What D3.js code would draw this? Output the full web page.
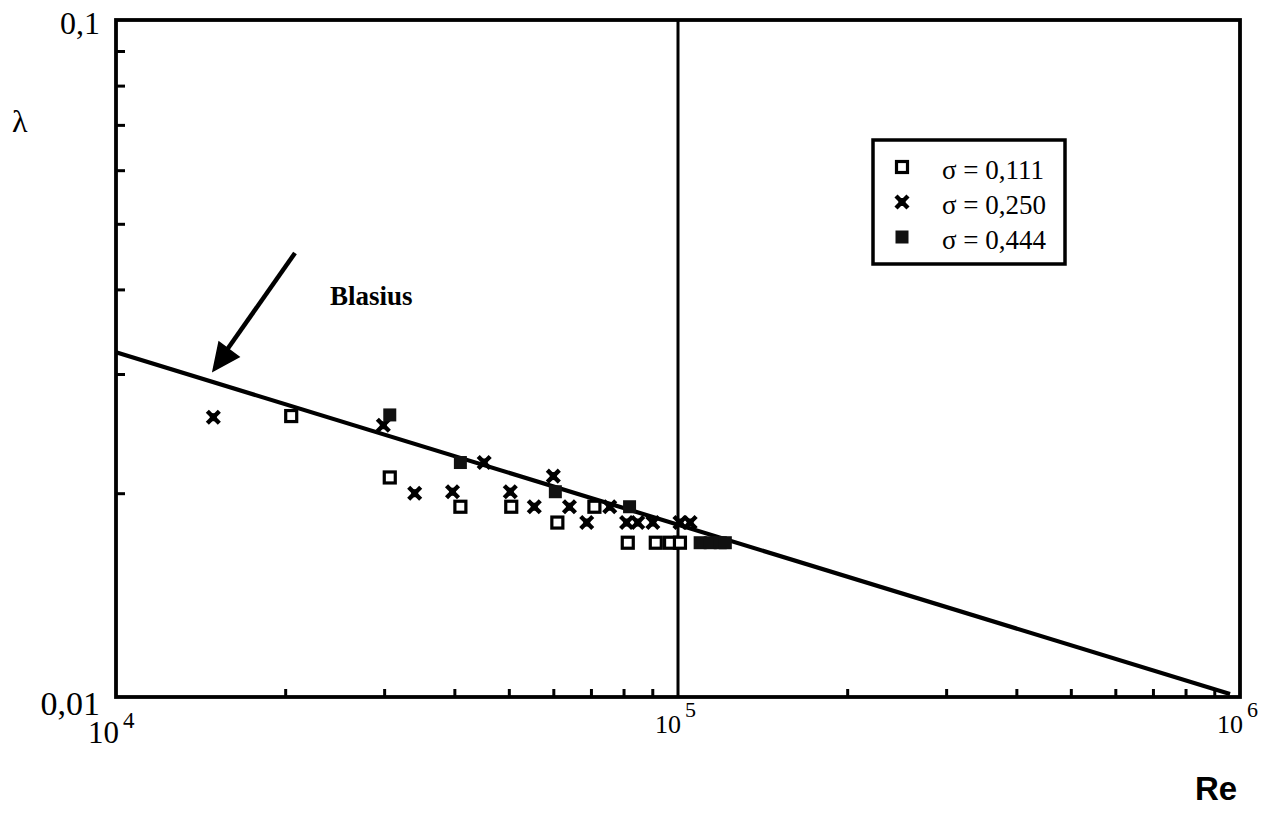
<!DOCTYPE html>
<html>
<head>
<meta charset="utf-8">
<script src="https://cdn.jsdelivr.net/npm/d3@7"></script>
<style>
  body { margin: 0; background: #fff; }
  svg { display: block; }
</style>
</head>
<body>
<svg id="chart" width="1277" height="827"></svg>
<script>
// values (Re, lambda)
var re111     = [20500, 30700, 41000, 50500, 61000, 71000, 81400, 91300, 96800, 100800];
var lambda111 = [0.0260, 0.0211, 0.0191, 0.0191, 0.0181, 0.0191, 0.0169, 0.0169, 0.0169, 0.0169];

var re250     = [14900, 29900, 34000, 39700, 45200, 50300, 55500, 60000, 64100, 68800, 75600, 81000, 84800, 90200, 100800, 105100];
var lambda250 = [0.0259, 0.0252, 0.0200, 0.0201, 0.0222, 0.0201, 0.0191, 0.0212, 0.0191, 0.0181, 0.0191, 0.0181, 0.0181, 0.0181, 0.0181, 0.0181];

var re444     = [30700, 41000, 60500, 82000, 109500, 114100, 118900, 121400];
var lambda444 = [0.0261, 0.0222, 0.0201, 0.0191, 0.0169, 0.0169, 0.0169, 0.0169];

// Blasius line end points
var blasiusRe     = [10000, 960000];
var blasiusLambda = [0.0323, 0.0101];

var seriesNames = ['\u03c3 = 0,111', '\u03c3 = 0,250', '\u03c3 = 0,444'];
var xMajor = [4, 5, 6];            // exponents of 10
var yMajorLabels = ['0,01', '0,1'];
var yMajor = [0.01, 0.1];

var svg = d3.select('#chart');
var serif = '"Liberation Serif", "Times New Roman", serif';

var x = d3.scaleLog().domain([1e4, 1e6]).range([116, 1240]);
var y = d3.scaleLog().domain([0.01, 0.1]).range([697, 20]);

/*
 * minor ticks, pointing inwards
 */
var xMinor = [], yMinor = [];
[1e4, 1e5].forEach(function(d) {
    for (var k = 2; k <= 9; k++) xMinor.push(k * d);
});
for (var k = 2; k <= 9; k++) yMinor.push(k * 0.01);

var ax = svg.append('g')
    .attr('transform', 'translate(0,' + y(0.01) + ')')
    .call(d3.axisBottom(x).tickValues(xMinor).tickSize(-8).tickFormat(''));
ax.select('.domain').remove();
ax.selectAll('line').attr('stroke', '#000').attr('stroke-width', 3);

var ay = svg.append('g')
    .attr('transform', 'translate(' + x(1e4) + ',0)')
    .call(d3.axisLeft(y).tickValues(yMinor).tickSize(-9).tickFormat(''));
ay.select('.domain').remove();
ay.selectAll('line').attr('stroke', '#000').attr('stroke-width', 3);

// vertical line at 10^5
svg.append('line')
    .attr('x1', x(1e5)).attr('x2', x(1e5))
    .attr('y1', y(0.1)).attr('y2', y(0.01))
    .attr('stroke', '#000').attr('stroke-width', 3);

// frame
svg.append('rect')
    .attr('x', x(1e4)).attr('y', y(0.1))
    .attr('width', x(1e6) - x(1e4))
    .attr('height', y(0.01) - y(0.1))
    .attr('fill', 'none').attr('stroke', '#000').attr('stroke-width', 3.8);

// Blasius line
var line = d3.line()
    .x(function(d) { return x(d[0]); })
    .y(function(d) { return y(d[1]); });
svg.append('path')
    .datum(d3.zip(blasiusRe, blasiusLambda))
    .attr('d', line)
    .attr('fill', 'none').attr('stroke', '#000').attr('stroke-width', 4.2);

/*
 * markers
 */
drawOpenSquare = function(g, cx, cy) {
    g.append('rect')
        .attr('x', cx - 5.5).attr('y', cy - 5.5)
        .attr('width', 11).attr('height', 11)
        .attr('fill', '#fff').attr('stroke', '#000').attr('stroke-width', 3.2);
}
drawCross = function(g, cx, cy) {
    var s = 6;
    g.append('path')
        .attr('d', 'M' + (cx - s) + ',' + (cy - s) + 'L' + (cx + s) + ',' + (cy + s) +
                   'M' + (cx + s) + ',' + (cy - s) + 'L' + (cx - s) + ',' + (cy + s))
        .attr('stroke', '#000').attr('stroke-width', 4.4).attr('fill', 'none');
    g.append('rect')
        .attr('x', cx - 3.5).attr('y', cy - 4).attr('width', 7).attr('height', 8)
        .attr('fill', '#000');
}
drawFilledSquare = function(g, cx, cy) {
    g.append('rect')
        .attr('x', cx - 6.5).attr('y', cy - 6.5)
        .attr('width', 13).attr('height', 13)
        .attr('fill', '#111');
}

var markers = [drawOpenSquare, drawCross, drawFilledSquare];
var series = [d3.zip(re111, lambda111), d3.zip(re250, lambda250), d3.zip(re444, lambda444)];

var pts = svg.append('g');
[1, 0, 2].forEach(function(i) {
    series[i].forEach(function(d) {
        markers[i](pts, x(d[0]), y(d[1]));
    });
});

/*
 * legend
 */
var leg = svg.append('g');
leg.append('rect')
    .attr('x', 873).attr('y', 140).attr('width', 192).attr('height', 124)
    .attr('fill', '#fff').attr('stroke', '#000').attr('stroke-width', 3.5);
seriesNames.forEach(function(name, i) {
    var cy = 167 + i * 35;
    markers[i](leg, 902, cy);
    leg.append('text')
        .attr('x', 942).attr('y', cy + 12)
        .attr('font-family', serif).attr('font-size', 27)
        .text(name);
});

/*
 * tick labels
 */
xMajor.forEach(function(e) {
    var tx = x(Math.pow(10, e));
    svg.append('text')
        .attr('x', tx + 3).attr('y', e == 4 ? 743 : 733)
        .attr('text-anchor', 'end')
        .attr('font-family', serif).attr('font-size', e == 4 ? 31 : 26)
        .text('10');
    svg.append('text')
        .attr('x', tx + 7).attr('y', e == 4 ? 728 : 717)
        .attr('font-family', serif).attr('font-size', e == 4 ? 23 : 22)
        .text(e);
});

yMajor.forEach(function(v, i) {
    svg.append('text')
        .attr('x', 100).attr('y', i == 0 ? 715 : 34)
        .attr('text-anchor', 'end')
        .attr('font-family', serif).attr('font-size', i == 0 ? 34 : 32)
        .text(yMajorLabels[i]);
});

// axis titles
svg.append('text')
    .attr('x', 12).attr('y', 132)
    .attr('font-family', serif).attr('font-size', 32)
    .text('\u03bb');

svg.append('text')
    .attr('x', 1195).attr('y', 800)
    .attr('font-family', '"Liberation Sans Narrow", "Liberation Sans", Arial, sans-serif')
    .attr('font-weight', 'bold').attr('font-size', 33)
    .text('Re');

// Blasius annotation with arrow
svg.append('text')
    .attr('x', 330).attr('y', 305)
    .attr('font-family', serif).attr('font-weight', 'bold').attr('font-size', 27)
    .text('Blasius');

svg.append('line')
    .attr('x1', 295).attr('y1', 253).attr('x2', 224).attr('y2', 354)
    .attr('stroke', '#000').attr('stroke-width', 4.5);
svg.append('path')
    .attr('d', 'M213,371 L219,342 L239,357 Z')
    .attr('fill', '#000').attr('stroke', '#000').attr('stroke-width', 1.5);
</script>
</body>
</html>
